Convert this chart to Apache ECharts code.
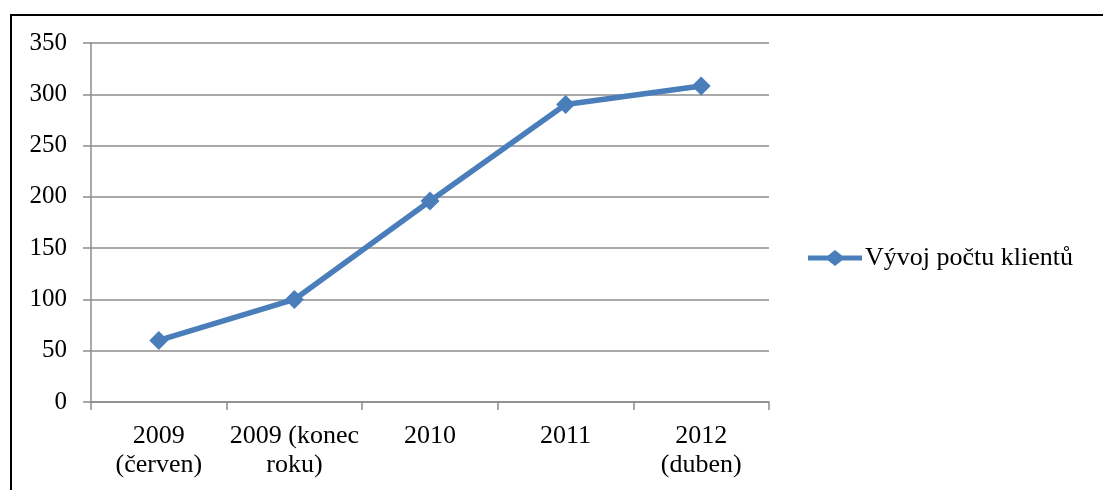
<!DOCTYPE html>
<html>
<head>
<meta charset="utf-8">
<script src="https://cdn.jsdelivr.net/npm/echarts@6/dist/echarts.min.js"></script>
<style>
  html, body { margin: 0; padding: 0; background: #fff; }
  #frame {
    position: absolute; left: 10px; top: 14px; width: 1100px; height: 480px;
    border-left: 2px solid #000; border-top: 2px solid #000;
  }
  #chart { position: absolute; left: 0; top: 0; width: 1103px; height: 490px; }
</style>
</head>
<body>
<div id="frame"></div>
<div id="chart"></div>
<script>
// data
const categories = ['2009\n(červen)', '2009 (konec\nroku)', '2010', '2011', '2012\n(duben)']
const clients = [60, 100, 196, 290, 308]
const seriesName = 'Vývoj počtu klientů'

const font = 'Liberation Serif, Times New Roman, serif'
const blue = '#4a7ebb'
const gray = '#8c8c8c'

const myChart = echarts.init(document.getElementById('chart'))

myChart.setOption({
  animation: false,
  textStyle: { fontFamily: font },
  grid: { left: 91, top: 43, width: 678, height: 359, containLabel: false },
  legend: {
    data: [{ name: seriesName, icon: 'path://M0,5.5 L20,5.5 L27,0 L34,5.5 L54,5.5 L54,10.5 L34,10.5 L27,16 L20,10.5 L0,10.5 Z' }],
    left: 803, top: 240,
    itemWidth: 56, itemHeight: 16, itemGap: 2,
    textStyle: { fontFamily: font, fontSize: 26, color: '#000', padding: [0, 0, 0, -3] }
  },
  xAxis: {
    type: 'category',
    data: categories,
    boundaryGap: true,
    axisLine: { lineStyle: { color: gray, width: 1.5 } },
    axisTick: { show: true, length: 8, inside: false, lineStyle: { color: gray, width: 1.5 } },
    axisLabel: { color: '#000', fontFamily: font, fontSize: 26, lineHeight: 29, margin: 20, interval: 0 },
    splitLine: { show: false }
  },
  yAxis: {
    type: 'value',
    min: 0, max: 350, interval: 50,
    axisLine: { show: true, lineStyle: { color: gray, width: 1.5 } },
    axisTick: { show: true, length: 8, lineStyle: { color: gray, width: 1.5 } },
    axisLabel: { color: '#000', fontFamily: font, fontSize: 25, margin: 24 },
    splitLine: { show: true, lineStyle: { color: gray, width: 1.5 } }
  },
  series: [
    {
      name: seriesName,
      type: 'line',
      data: clients,
      symbol: 'diamond',
      symbolSize: 19,
      itemStyle: { color: blue },
      lineStyle: { color: blue, width: 5.5 }
    }
  ]
})
</script>
</body>
</html>
